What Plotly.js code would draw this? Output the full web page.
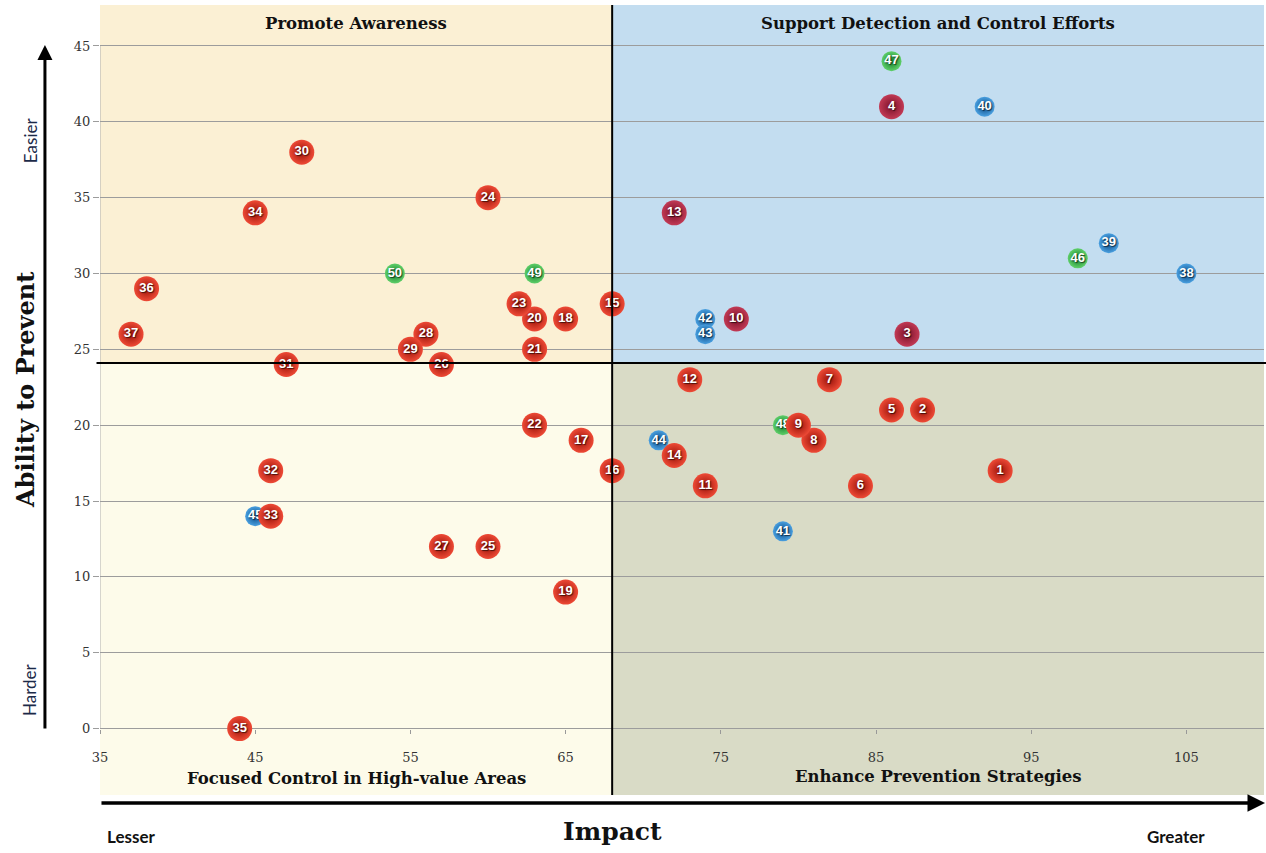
<!DOCTYPE html>
<html>
<head>
<meta charset="utf-8">
<script src="https://cdn.plot.ly/plotly-3.0.1.min.js"></script>
<style>html,body{margin:0;padding:0;background:#fff;}#chart{width:1266px;height:853px;}</style>
</head>
<body>
<div id="chart"></div>
<script>
// ---- data ----
const redIds = ['1','2','3','4','5','6','7','8','9','10','11','12','13','14','15','16','17','18','19','20','21','22','23','24','25','26','27','28','29','30','31','32','33','34','35','36','37'];
const redImpact = [93,88,87,86,86,84,82,81,80,76,74,73,72,72,68,68,66,65,65,63,63,63,62,60,60,57,57,56,55,48,47,46,46,45,44,38,37];
const redPrevent = [17,21,26,41,21,16,23,19,20,27,16,23,34,18,28,17,19,27,9,27,25,20,28,35,12,24,12,26,25,38,24,17,14,34,0,29,26];

const blueIds = ['38','39','40','41','42','43','44','45'];
const blueImpact = [105,100,92,79,74,74,71,45];
const bluePrevent = [30,32,41,13,27,26,19,14];

const greenIds = ['46','47','48','49','50'];
const greenImpact = [98,86,79,63,54];
const greenPrevent = [31,44,20,30,30];

const xTicks = [35,45,55,65,75,85,95,105];
const yTicks = [0,5,10,15,20,25,30,35,40,45];

const quadrantLabels = ['Promote Awareness','Support Detection and Control Efforts','Focused Control in High-value Areas','Enhance Prevention Strategies'];
const xTitle = 'Impact';
const yTitle = 'Ability to Prevent';
const xEnds = ['Lesser','Greater'];
const yEnds = ['Easier','Harder'];

// ---- layout constants ----
const divX = 68, divY = 24.1;
const xMin = 35, xMax = 110, yMin = -4.38, yMax = 47.7;

const serif = 'DejaVu Serif, Liberation Serif, serif';
const labelFont = {family:'Liberation Sans, Arial, sans-serif', size:13, color:'#ffffff', weight:'bold', shadow:'1px 1px 1px rgba(0,0,0,0.6)'};

function inTR(x,y){return x>divX && y>divY;}

const redColors = redImpact.map((x,i)=>inTR(x,redPrevent[i])?'#c23a55':'#ee4a36');
const redEdges = redImpact.map((x,i)=>inTR(x,redPrevent[i])?'#7a1028':'#9a1208');

const traces = [
  {type:'scatter', mode:'markers+text', x:blueImpact, y:bluePrevent, text:blueIds,
   marker:{size:20, color:'#4aa0e0', gradient:{type:'radial', color:'#0a4a86'}, line:{width:0}},
   textfont:labelFont, textposition:'middle center', hoverinfo:'x+y+text'},
  {type:'scatter', mode:'markers+text', x:greenImpact, y:greenPrevent, text:greenIds,
   marker:{size:20, color:'#5fd06a', gradient:{type:'radial', color:'#147a2a'}, line:{width:0}},
   textfont:labelFont, textposition:'middle center', hoverinfo:'x+y+text'},
  {type:'scatter', mode:'markers+text', x:redImpact, y:redPrevent, text:redIds,
   marker:{size:25, color:redColors, gradient:{type:'radial', color:redEdges}, line:{width:0}},
   textfont:labelFont, textposition:'middle center', hoverinfo:'x+y+text'}
];

const shapes = [
  {type:'rect', layer:'below', xref:'x', yref:'y', x0:xMin, x1:divX, y0:divY, y1:yMax, fillcolor:'#fbf0d4', line:{width:0}},
  {type:'rect', layer:'below', xref:'x', yref:'y', x0:divX, x1:xMax, y0:divY, y1:yMax, fillcolor:'#c3ddf0', line:{width:0}},
  {type:'rect', layer:'below', xref:'x', yref:'y', x0:xMin, x1:divX, y0:yMin, y1:divY, fillcolor:'#fdfbea', line:{width:0}},
  {type:'rect', layer:'below', xref:'x', yref:'y', x0:divX, x1:xMax, y0:yMin, y1:divY, fillcolor:'#d9dbc6', line:{width:0}},
  {type:'line', layer:'below', xref:'x', yref:'y', x0:xMin, x1:xMin, y0:0, y1:45, line:{color:'#b0b0b0', width:1}},
  {type:'line', layer:'above', xref:'x', yref:'paper', x0:divX, x1:divX, y0:0, y1:1, line:{color:'#000', width:2}},
  {type:'line', layer:'above', xref:'paper', yref:'y', x0:-0.003, x1:1.002, y0:divY, y1:divY, line:{color:'#000', width:2}}
];

const qFont = {family:serif, size:16.5, color:'#111', weight:'bold'};
function txt(text, xref, x, y, font, angle){
  return {text:text, xref:xref, yref:'paper', x:x, y:y, xanchor:'center', yanchor:'middle', showarrow:false, font:font, textangle:angle||0};
}
const endFont = {family:'Lato, sans-serif', size:17, color:'#111', weight:'bold'};
const sideFont = {family:'Lato, sans-serif', size:17, color:'#1c2a48'};
const annotations = [
  txt(quadrantLabels[0], 'x', (xMin+divX)/2, 0.977, qFont),
  txt(quadrantLabels[1], 'x', (divX+xMax)/2, 0.977, qFont),
  txt(quadrantLabels[2], 'x', (xMin+divX)/2, 0.0215, qFont),
  txt(quadrantLabels[3], 'x', (divX+xMax)/2, 0.0240, qFont),
  txt(yTitle, 'paper', -0.0636, 0.5127, {family:serif, size:24, color:'#111', weight:'bold'}, -90),
  txt(xTitle, 'paper', 0.4407, -0.0468, {family:serif, size:25, color:'#111', weight:'bold'}),
  txt(yEnds[0], 'paper', -0.0601, 0.829, sideFont, -90),
  txt(yEnds[1], 'paper', -0.0601, 0.133, sideFont, -90),
  txt(xEnds[0], 'paper', 0.0266, -0.0519, endFont),
  txt(xEnds[1], 'paper', 0.9244, -0.0519, endFont),
  // arrows
  {text:'', xref:'paper', yref:'paper', x:-0.0473, y:0.9494, ax:0, ay:685, showarrow:true, arrowhead:2, arrowsize:1, arrowwidth:3, arrowcolor:'#000', standoff:0},
  {text:'', xref:'paper', yref:'paper', x:1.0017, y:-0.0101, ax:-1166, ay:0, showarrow:true, arrowhead:2, arrowsize:1, arrowwidth:3.5, arrowcolor:'#000', standoff:0}
];

const layout = {
  width:1266, height:853,
  margin:{l:100, r:2, t:5, b:58},
  paper_bgcolor:'#ffffff', plot_bgcolor:'rgba(0,0,0,0)',
  showlegend:false,
  xaxis:{range:[xMin,xMax], tickvals:xTicks, showgrid:false, zeroline:false, showline:false,
         anchor:'free', position:(0-yMin)/(yMax-yMin), ticks:'outside', ticklen:4, tickcolor:'#999',
         ticklabelstandoff:13, tickfont:{family:serif, size:13, color:'#333'}},
  yaxis:{range:[yMin,yMax], tickvals:yTicks, showgrid:true, gridcolor:'#9c9c9c', gridwidth:1, zeroline:false,
         showline:false, ticks:'outside', ticklen:6, tickcolor:'#9c9c9c',
         tickfont:{family:serif, size:13, color:'#333'}},
  shapes:shapes, annotations:annotations
};

Plotly.newPlot('chart', traces, layout, {displayModeBar:false, staticPlot:true});
</script>
</body>
</html>
